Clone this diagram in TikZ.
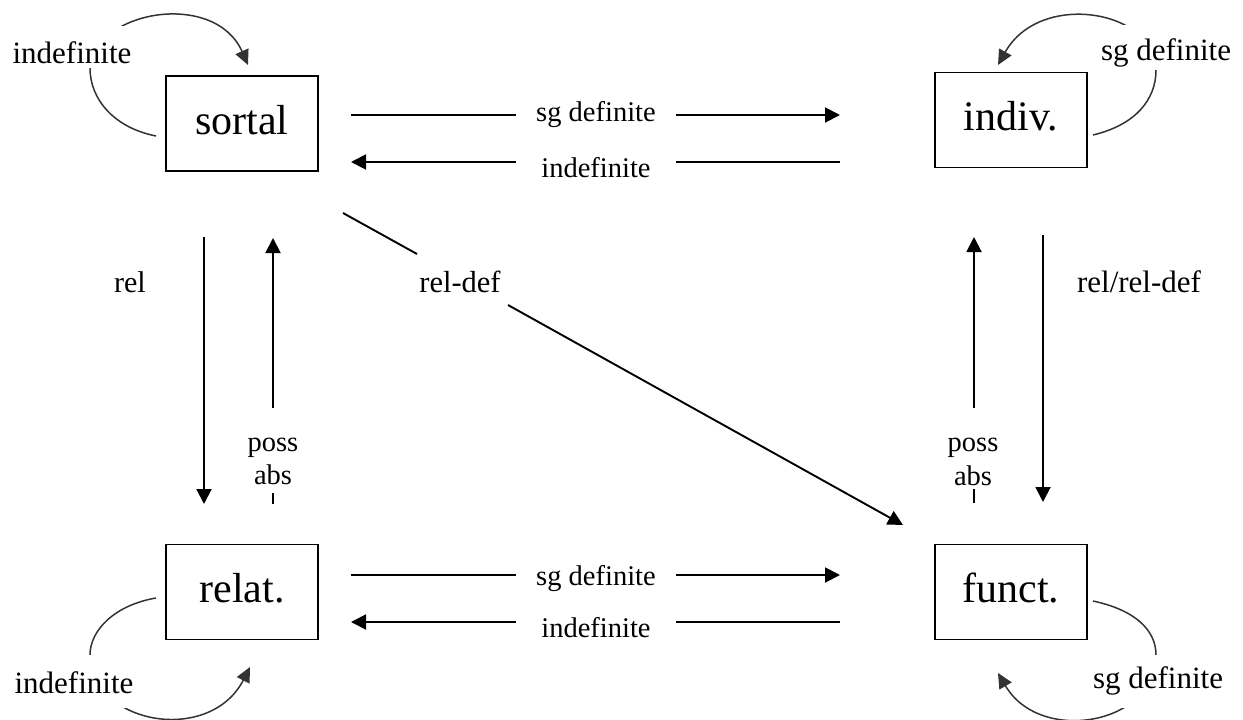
\documentclass[tikz,border=0pt]{standalone}
\usepackage{fontspec}
\setmainfont{Liberation Serif}
\usetikzlibrary{arrows.meta}
\begin{document}
\begin{tikzpicture}[x=1pt,y=-1pt,
  box/.style={draw, line width=1.9pt, minimum width=152pt, minimum height=95pt, inner sep=0pt,
    font=\fontsize{42}{50}\selectfont, text height=29pt, text depth=8pt},
  conn/.style={line width=1.9pt, -{Triangle[length=15pt,width=15pt]}},
  loopline/.style={line width=1.5pt, draw=black!80, -{Triangle[length=15pt,width=14pt]}, black!80},
  lab/.style={font=\fontsize{28.5}{31}\selectfont, inner sep=0pt},
  cornerlab/.style={font=\fontsize{31}{34}\selectfont, fill=white, inner sep=0pt, inner xsep=6pt, anchor=base}
]
\useasboundingbox (0,0) rectangle (1243,720);

% boxes
\node[box] (sortal) at (242,123.5) {sortal};
\node[box] (indiv)  at (1011,120) {indiv.};
\node[box] (relat)  at (242,592) {relat.};
\node[box] (funct)  at (1011,592) {funct.};

% endpoints of connectors
\coordinate (t1a) at (351,115); \coordinate (t1b) at (516,115);
\coordinate (t1c) at (676,115); \coordinate (t1d) at (840,115);
\coordinate (t2a) at (351,162); \coordinate (t2b) at (516,162);
\coordinate (t2c) at (676,162); \coordinate (t2d) at (840,162);
\coordinate (b1a) at (351,575); \coordinate (b1b) at (516,575);
\coordinate (b1c) at (676,575); \coordinate (b1d) at (840,575);
\coordinate (b2a) at (351,622); \coordinate (b2b) at (516,622);
\coordinate (b2c) at (676,622); \coordinate (b2d) at (840,622);

\coordinate (relA) at (204,237); \coordinate (relB) at (204,504);
\coordinate (pLa) at (273,504); \coordinate (pLb) at (273,493);
\coordinate (pLc) at (273,408); \coordinate (pLd) at (273,238);
\coordinate (pRa) at (974,503); \coordinate (pRb) at (974,489);
\coordinate (pRc) at (974,408); \coordinate (pRd) at (974,237);
\coordinate (rrA) at (1043,235); \coordinate (rrB) at (1043,502);

\coordinate (dA) at (343,213); \coordinate (dB) at (417,254);
\coordinate (dC) at (508,305); \coordinate (dD) at (903,525);

% horizontal connectors
\draw[conn] (t1a) -- (t1b) (t1c) -- (t1d);
\draw[conn] (t2d) -- (t2c) (t2b) -- (t2a);
\draw[conn] (b1a) -- (b1b) (b1c) -- (b1d);
\draw[conn] (b2d) -- (b2c) (b2b) -- (b2a);

% vertical connectors
\draw[conn] (relA) -- (relB);
\draw[conn] (pLa) -- (pLb) (pLc) -- (pLd);
\draw[conn] (pRa) -- (pRb) (pRc) -- (pRd);
\draw[conn] (rrA) -- (rrB);

% diagonal
\draw[conn] (dA) -- (dB) (dC) -- (dD);

% labels
\node[lab, anchor=base] (l1) at (596,121) {sg definite};
\node[lab, anchor=base] (l2) at (596,177) {indefinite};
\node[lab, anchor=base] (l3) at (596,585) {sg definite};
\node[lab, anchor=base] (l4) at (596,637) {indefinite};
\node[lab, anchor=base, font=\fontsize{30}{33}\selectfont] (lrel) at (130,292) {rel};
\node[lab, anchor=base, font=\fontsize{30.5}{33}\selectfont] (lreldef) at (460,292) {rel-def};
\node[lab, anchor=base, font=\fontsize{31}{33}\selectfont] (lrr) at (1139,292) {rel/rel-def};
\node[lab, anchor=base] (lp1) at (273,451) {poss};
\node[lab, anchor=base] (lp2) at (273,484) {abs};
\node[lab, anchor=base] (lp3) at (973,451) {poss};
\node[lab, anchor=base] (lp4) at (973,485) {abs};

% loops
\draw[loopline] (156,136) .. controls (115,128) and (90,100) .. (90,68)
   .. controls (95,10) and (215,-10) .. (248,65);
\node[cornerlab, text height=37pt, text depth=5pt] (c1) at (72,63) {indefinite};

\draw[loopline] (1093,135) .. controls (1135,125) and (1156,100) .. (1156,70)
   .. controls (1156,10) and (1040,-10) .. (998,65);
\node[cornerlab, text height=35pt, text depth=10pt] (c2) at (1166,60) {sg definite};

\draw[loopline] (156,598) .. controls (115,605) and (90,630) .. (90,655)
   .. controls (92,725) and (210,745) .. (250,667);
\node[cornerlab, text height=38pt, text depth=15pt] (c3) at (74,693) {indefinite};

\draw[loopline] (1093,601) .. controls (1135,610) and (1156,630) .. (1156,655)
   .. controls (1156,725) and (1040,745) .. (998,673);
\node[cornerlab, text height=33pt, text depth=20pt] (c4) at (1158,688) {sg definite};
\end{tikzpicture}
\end{document}
